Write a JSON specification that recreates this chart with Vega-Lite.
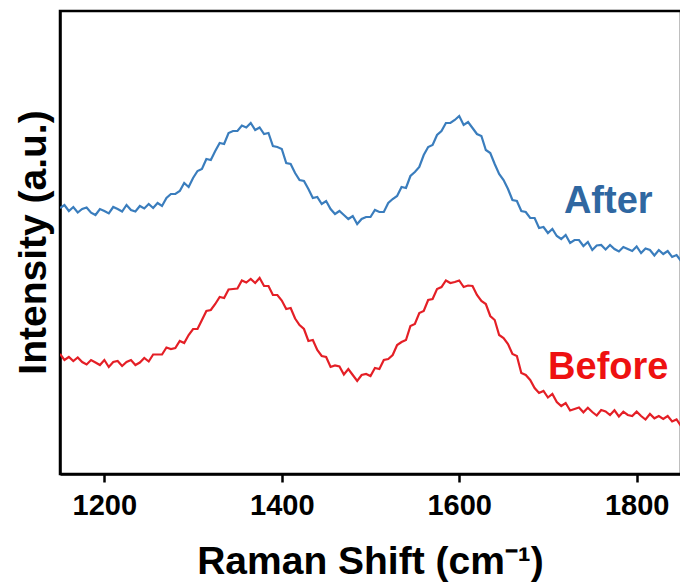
{
  "$schema": "https://vega.github.io/schema/vega-lite/v6.json",
  "width": 621,
  "height": 463,
  "autosize": {"type": "none"},
  "padding": {"left": 60, "top": 11, "right": 0, "bottom": 108},
  "background": "white",
  "config": {
    "view": {"stroke": "black", "strokeWidth": 2.5},
    "font": "Liberation Sans",
    "axisX": {
      "grid": false,
      "domainColor": "black", "domainWidth": 2.5,
      "tickColor": "black", "tickWidth": 2.5, "tickSize": 8,
      "labelFont": "Liberation Sans", "labelFontSize": 29, "labelFontWeight": "bold", "labelColor": "black", "labelPadding": 9,
      "titleFont": "Liberation Sans", "titleFontSize": 39, "titleFontWeight": "bold", "titleColor": "black",
      "titleX": 310, "titleY": 99, "titleAlign": "center", "titleBaseline": "alphabetic"
    },
    "axisY": {
      "grid": false, "ticks": false, "labels": false,
      "domainColor": "black", "domainWidth": 2.5,
      "titleFont": "Liberation Sans", "titleFontSize": 39, "titleFontWeight": "bold", "titleColor": "black",
      "titleX": -27, "titleY": 231, "titleAngle": -90, "titleAlign": "center", "titleBaseline": "middle"
    }
  },
  "layer": [
    {
      "data": {
        "values": [
          {"x":1150,"After":266,"Before":120},{"x":1155,"After":269,"Before":114},{"x":1160,"After":263,"Before":117},{"x":1165,"After":267,"Before":113},{"x":1170,"After":261.5,"Before":116.5},{"x":1175,"After":265,"Before":112},{"x":1180,"After":266.5,"Before":109.5},{"x":1185,"After":261.3,"Before":114},{"x":1190,"After":259,"Before":111.5},{"x":1195,"After":265,"Before":109},
          {"x":1200,"After":263,"Before":114},{"x":1205,"After":260.6,"Before":107},{"x":1210,"After":267,"Before":112},{"x":1215,"After":265,"Before":113},{"x":1220,"After":262.5,"Before":108},{"x":1225,"After":269,"Before":112},{"x":1230,"After":264,"Before":114},{"x":1235,"After":262.5,"Before":109},{"x":1240,"After":268,"Before":111.5},{"x":1245,"After":265.5,"Before":116},
          {"x":1250,"After":270,"Before":112.5},{"x":1255,"After":266,"Before":119.5},{"x":1260,"After":271,"Before":119.5},{"x":1265,"After":268,"Before":119.5},{"x":1270,"After":276,"Before":126.5},{"x":1275,"After":280,"Before":125},{"x":1280,"After":280,"Before":126},{"x":1285,"After":283,"Before":133},{"x":1290,"After":291,"Before":131},{"x":1295,"After":287,"Before":139},
          {"x":1300,"After":296,"Before":145},{"x":1305,"After":303,"Before":145},{"x":1310,"After":305,"Before":154},{"x":1315,"After":315,"Before":163},{"x":1320,"After":314,"Before":164},{"x":1325,"After":323,"Before":170},{"x":1330,"After":331,"Before":177},{"x":1335,"After":330,"Before":176},{"x":1340,"After":341,"Before":184.5},{"x":1345,"After":343,"Before":185},
          {"x":1350,"After":343,"Before":185.5},{"x":1355,"After":348.5,"Before":193.5},{"x":1360,"After":346.5,"Before":191.5},{"x":1365,"After":351,"Before":195},{"x":1370,"After":344,"Before":191},{"x":1375,"After":346.5,"Before":196},{"x":1380,"After":340,"Before":188},{"x":1385,"After":341,"Before":188},{"x":1390,"After":328,"Before":179},{"x":1395,"After":327,"Before":179},
          {"x":1400,"After":325,"Before":173.5},{"x":1405,"After":311,"Before":165},{"x":1410,"After":310,"Before":166},{"x":1415,"After":301,"Before":155.5},{"x":1420,"After":294,"Before":149},{"x":1425,"After":293,"Before":145},{"x":1430,"After":285,"Before":133},{"x":1435,"After":276,"Before":134},{"x":1440,"After":277,"Before":124},{"x":1445,"After":270,"Before":118},
          {"x":1450,"After":273,"Before":117},{"x":1455,"After":265,"Before":107},{"x":1460,"After":260,"Before":108.5},{"x":1465,"After":263,"Before":107.5},{"x":1470,"After":259,"Before":99.5},{"x":1475,"After":255,"Before":105},{"x":1480,"After":258,"Before":99},{"x":1485,"After":250,"Before":93},{"x":1490,"After":255,"Before":99},{"x":1495,"After":257,"Before":100},
          {"x":1500,"After":257,"Before":98},{"x":1505,"After":264,"Before":106},{"x":1510,"After":262,"Before":105},{"x":1515,"After":262,"Before":114},{"x":1520,"After":271,"Before":115},{"x":1525,"After":275,"Before":119},{"x":1530,"After":278,"Before":129},{"x":1535,"After":287,"Before":132},{"x":1540,"After":286,"Before":134},{"x":1545,"After":298,"Before":148},
          {"x":1550,"After":302,"Before":150},{"x":1555,"After":307,"Before":161},{"x":1560,"After":319,"Before":163},{"x":1565,"After":327,"Before":174},{"x":1570,"After":329,"Before":175},{"x":1575,"After":339,"Before":185},{"x":1580,"After":343,"Before":187},{"x":1585,"After":351,"Before":193.5},{"x":1590,"After":351,"Before":191},{"x":1595,"After":354,"Before":192},
          {"x":1600,"After":358,"Before":193.5},{"x":1605,"After":349,"Before":187},{"x":1610,"After":352,"Before":188.5},{"x":1615,"After":346,"Before":188},{"x":1620,"After":340,"Before":179},{"x":1625,"After":338,"Before":173},{"x":1630,"After":324,"Before":170},{"x":1635,"After":321,"Before":158},{"x":1640,"After":310,"Before":154},{"x":1645,"After":300,"Before":139},
          {"x":1650,"After":294,"Before":136},{"x":1655,"After":285,"Before":130},{"x":1660,"After":274,"Before":120},{"x":1665,"After":273,"Before":118},{"x":1670,"After":263,"Before":101},{"x":1675,"After":262,"Before":99},{"x":1680,"After":256,"Before":94},{"x":1685,"After":256,"Before":86},{"x":1690,"After":246,"Before":81},{"x":1695,"After":247,"Before":83},
          {"x":1700,"After":241,"Before":76.5},{"x":1705,"After":245,"Before":80},{"x":1710,"After":238,"Before":72},{"x":1715,"After":235,"Before":68},{"x":1720,"After":239,"Before":71},{"x":1725,"After":231,"Before":63.5},{"x":1730,"After":234,"Before":65},{"x":1735,"After":234,"Before":66.5},{"x":1740,"After":228,"Before":61.7},{"x":1745,"After":232,"Before":66.3},
          {"x":1750,"After":224,"Before":62},{"x":1755,"After":228.5,"Before":58.5},{"x":1760,"After":229,"Before":64},{"x":1765,"After":224.5,"Before":62.5},{"x":1770,"After":229,"Before":59},{"x":1775,"After":225,"Before":63.7},{"x":1780,"After":222.5,"Before":57.5},{"x":1785,"After":227,"Before":62.3},{"x":1790,"After":225,"Before":59},{"x":1795,"After":223,"Before":58},
          {"x":1800,"After":227.5,"Before":62.4},{"x":1805,"After":221,"Before":58},{"x":1810,"After":225.5,"Before":54.5},{"x":1815,"After":224,"Before":60},{"x":1820,"After":218.5,"Before":55.7},{"x":1825,"After":224,"Before":58},{"x":1830,"After":220,"Before":55},{"x":1835,"After":223,"Before":58},{"x":1840,"After":217,"Before":52.5},{"x":1845,"After":219,"Before":54.5},
          {"x":1850,"After":213,"Before":48}
        ]
      },
      "transform": [{"fold": ["After", "Before"], "as": ["series", "intensity"]}],
      "mark": {"type": "line", "strokeWidth": 2.2, "clip": true},
      "encoding": {
        "x": {
          "field": "x", "type": "quantitative",
          "scale": {"domain": [1150, 1850], "nice": false, "zero": false},
          "axis": {"values": [1200, 1400, 1600, 1800], "format": "d", "title": "Raman Shift (cm⁻¹)"}
        },
        "y": {
          "field": "intensity", "type": "quantitative",
          "scale": {"domain": [0, 463], "nice": false, "zero": false},
          "axis": {"title": "Intensity (a.u.)"}
        },
        "color": {
          "field": "series", "type": "nominal",
          "scale": {"domain": ["After", "Before"], "range": ["#3a7dbd", "#e41f26"]},
          "legend": null
        }
      }
    },
    {
      "data": {"values": [{"x": 1768, "y": 261, "t": "After"}]},
      "mark": {"type": "text", "font": "Liberation Sans", "fontWeight": "bold", "fontSize": 38, "color": "#2f67a1", "align": "center", "baseline": "alphabetic"},
      "encoding": {
        "x": {"field": "x", "type": "quantitative", "axis": {"values": [1200, 1400, 1600, 1800], "format": "d", "title": "Raman Shift (cm⁻¹)"}},
        "y": {"field": "y", "type": "quantitative", "axis": {"title": "Intensity (a.u.)"}},
        "text": {"field": "t"}
      }
    },
    {
      "data": {"values": [{"x": 1768, "y": 95, "t": "Before"}]},
      "mark": {"type": "text", "font": "Liberation Sans", "fontWeight": "bold", "fontSize": 38, "color": "#ee1111", "align": "center", "baseline": "alphabetic"},
      "encoding": {
        "x": {"field": "x", "type": "quantitative", "axis": {"values": [1200, 1400, 1600, 1800], "format": "d", "title": "Raman Shift (cm⁻¹)"}},
        "y": {"field": "y", "type": "quantitative", "axis": {"title": "Intensity (a.u.)"}},
        "text": {"field": "t"}
      }
    }
  ]
}
